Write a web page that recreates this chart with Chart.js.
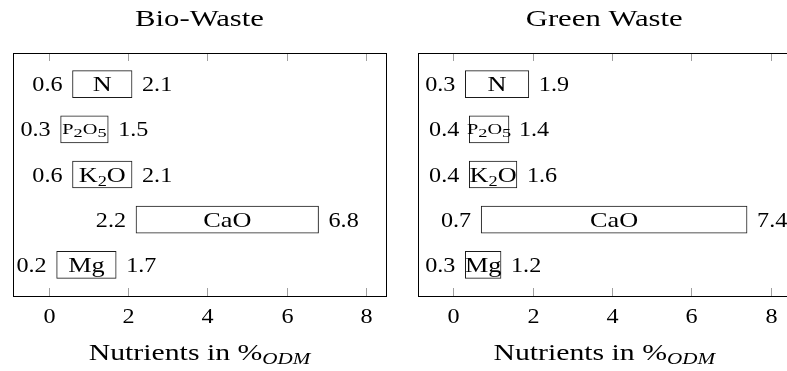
<!DOCTYPE html>
<html lang="en">
<head>
<meta charset="UTF-8">
<title>Nutrients in bio-waste and green waste</title>
<script src="https://cdn.jsdelivr.net/npm/chart.js"></script>
<style>
  html, body { margin: 0; padding: 0; background: #fff; overflow: hidden; }
  body { width: 787px; height: 371px; position: relative; }
  /* two panels side by side, the right one runs past the window edge */
  .panel { position: absolute; top: 0; width: 400px; height: 371px; }
  #bio { left: 0; }
  #green { left: 404px; }
</style>
</head>
<body>
<div class="panel" id="bio"><canvas id="chart-bio" width="400" height="371"></canvas></div>
<div class="panel" id="green"><canvas id="chart-green" width="400" height="371"></canvas></div>

<script>
  // data (% of organic dry matter)
  const nutrients = ['N', 'P_2O_5', 'K_2O', 'CaO', 'Mg'];
  const smallLabel = [false, true, false, false, false];
  const bioMin   = [0.6, 0.3, 0.6, 2.2, 0.2];
  const bioMax   = [2.1, 1.5, 2.1, 6.8, 1.7];
  const greenMin = [0.3, 0.4, 0.4, 0.7, 0.3];
  const greenMax = [1.9, 1.4, 1.6, 7.4, 1.2];
  const xTicks   = [0, 2, 4, 6, 8];

  const FONT = '"Liberation Serif", "Times New Roman", serif';

  // split 'K_2O' into parts, "_x" = subscript
  function parseLabel(text, size, k, subRatio) {
    const parts = [];
    for (let i = 0; i < text.length; i++) {
      if (text[i] === '_') {
        parts.push({ t: text[i + 1], size: size * subRatio, dy: size * 0.22, k: k });
        i++;
      } else {
        parts.push({ t: text[i], size: size, dy: 0, k: k });
      }
    }
    return parts;
  }

  // draw text parts on one baseline, each part stretched sideways by k
  function drawParts(ctx, parts, x, baseline, align) {
    let w = 0;
    parts.forEach(p => {
      ctx.font = (p.italic ? 'italic ' : '') + p.size + 'px ' + FONT;
      p.w = ctx.measureText(p.t).width * (p.k || 1);
      w += p.w;
    });
    let cx = align === 'center' ? x - w / 2 : align === 'right' ? x - w : x;
    ctx.textAlign = 'left';
    ctx.textBaseline = 'alphabetic';
    ctx.fillStyle = '#000';
    parts.forEach(p => {
      ctx.save();
      ctx.font = (p.italic ? 'italic ' : '') + p.size + 'px ' + FONT;
      ctx.translate(cx, baseline + (p.dy || 0));
      ctx.scale(p.k || 1, 1);
      ctx.fillText(p.t, 0, 0);
      ctx.restore();
      cx += p.w;
    });
  }

  const framePlugin = {
    id: 'frame',
    afterDatasetsDraw(chart, args, opts) {
      const { ctx, chartArea: a, scales: { x } } = chart;
      ctx.save();
      // inner tick marks top and bottom, tick labels below
      ctx.strokeStyle = '#a0a0a0';
      ctx.lineWidth = 1;
      x.ticks.forEach(t => {
        const px = Math.round(x.getPixelForValue(t.value)) + 0.5;
        ctx.beginPath();
        ctx.moveTo(px, a.top); ctx.lineTo(px, a.top + 8);
        ctx.moveTo(px, a.bottom); ctx.lineTo(px, a.bottom - 8);
        ctx.stroke();
        drawParts(ctx, [{ t: String(t.value), size: 21, k: 1.15 }], px, 323, 'center');
      });
      ctx.strokeStyle = '#000';
      ctx.strokeRect(Math.round(a.left) + 0.5, Math.round(a.top) + 0.5,
                     Math.round(a.right - a.left), Math.round(a.bottom - a.top));

      // min / max values and nutrient name on every bar
      const meta = chart.getDatasetMeta(0);
      const data = chart.data.datasets[0].data;
      meta.data.forEach((bar, i) => {
        const lo = Math.min(bar.base, bar.x), hi = Math.max(bar.base, bar.x);
        const base = bar.y + 7;
        const gap = 10;
        drawParts(ctx, [{ t: data[i].x[0].toFixed(1), size: 21, k: 1.15 }], lo - gap, base, 'right');
        drawParts(ctx, [{ t: data[i].x[1].toFixed(1), size: 21, k: 1.15 }], hi + gap, base, 'left');
        const parts = smallLabel[i] ? parseLabel(nutrients[i], 14, 1.45, 0.9)
                                    : parseLabel(nutrients[i], 21, 1.25, 0.7);
        drawParts(ctx, parts, (lo + hi) / 2, bar.y + (smallLabel[i] ? 4.5 : 7), 'center');
      });

      // panel title and axis title
      const cx = (a.left + a.right) / 2;
      drawParts(ctx, [{ t: opts.title, size: 24, k: 1.28 }], cx, 26, 'center');
      drawParts(ctx, [
        { t: 'Nutrients in %', size: 24, k: 1.24 },
        { t: 'ODM', size: 17, dy: 4, italic: true, k: 1.24 }
      ], cx, 360, 'center');
      ctx.restore();
    }
  };

  function makeChart(id, title, mins, maxs, padLeft, padRight) {
    const points = nutrients.map((n, i) => ({ x: [mins[i], maxs[i]], y: i }));
    return new Chart(document.getElementById(id), {
      type: 'bar',
      data: {
        datasets: [{
          data: points,
          backgroundColor: '#fff',
          borderColor: '#1a1a1a',
          borderWidth: 1,
          borderSkipped: false,
          barThickness: 27
        }]
      },
      options: {
        indexAxis: 'y',
        responsive: false,
        animation: false,
        layout: { padding: { left: padLeft, right: padRight, top: 53, bottom: 0 } },
        plugins: {
          legend: { display: false },
          tooltip: { enabled: false },
          frame: { title: title }
        },
        scales: {
          x: {
            type: 'linear',
            min: -0.9,
            max: 8.5,
            grid: { display: false, drawTicks: false },
            border: { display: false },
            ticks: { display: false },
            afterBuildTicks: s => { s.ticks = xTicks.map(v => ({ value: v })); },
            afterFit: s => { s.height = 75; }
          },
          y: {
            type: 'linear',
            display: false,
            offset: false,
            reverse: true,
            min: -0.69,
            max: 4.69
          }
        }
      },
      plugins: [framePlugin]
    });
  }

  makeChart('chart-bio', 'Bio-Waste', bioMin, bioMax, 13, 14);
  makeChart('chart-green', 'Green Waste', greenMin, greenMax, 13.7, 13.3);
</script>
</body>
</html>
